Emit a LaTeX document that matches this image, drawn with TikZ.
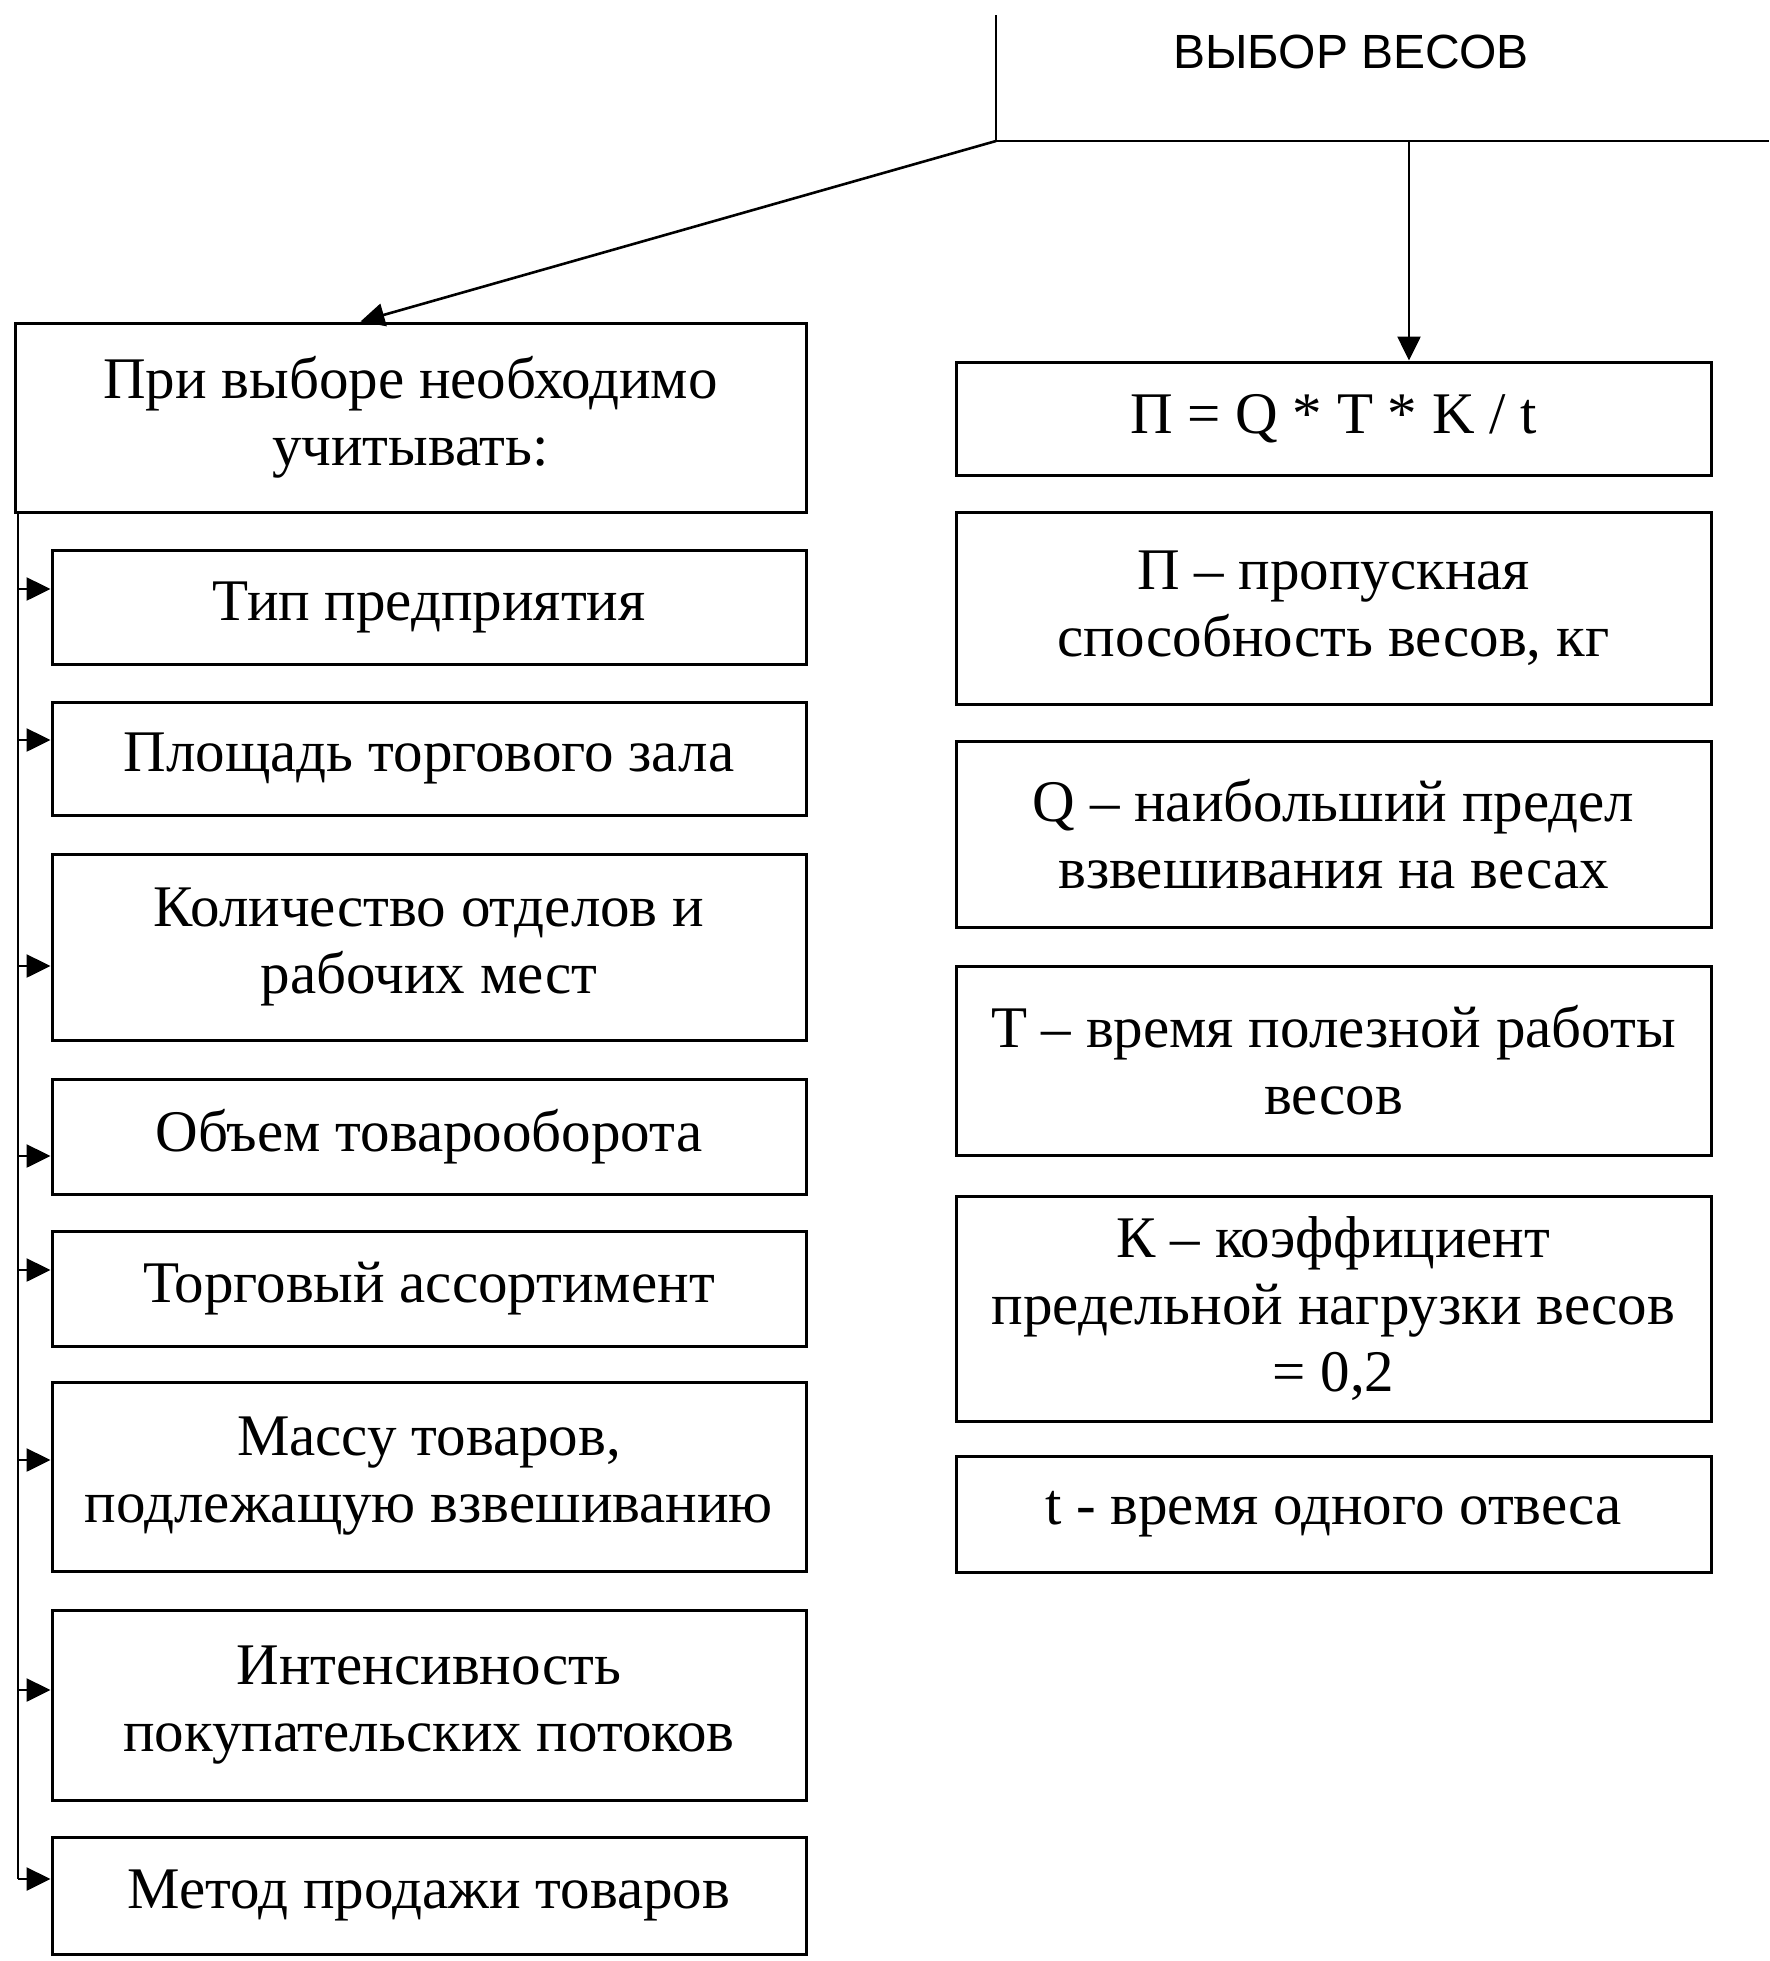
\documentclass[tikz,border=0pt]{standalone}
\usepackage{fontspec}
\setmainfont{Liberation Serif}
\newfontfamily\headfont{Liberation Sans}
\usetikzlibrary{arrows.meta,calc}
\begin{document}
\begin{tikzpicture}[x=0.5pt,y=-0.5pt,
  box/.style={draw,line width=1.5pt,inner sep=0pt,align=center,font=\fontsize{29.5}{33.5}\selectfont},
  lbox/.style={box,minimum width=377pt},
  rbox/.style={box,minimum width=377.5pt},
  arr/.style={line width=1.3pt,-{Triangle[length=12pt,width=11.5pt]}},
  ln/.style={line width=1.3pt}]
\useasboundingbox (0,0) rectangle (1769,1961);
% header
\node[font=\headfont\fontsize{24}{26}\selectfont] (title) at (1351,52) {ВЫБОР ВЕСОВ};
\coordinate (hdT) at (996,15);
\coordinate (hd) at (996,141);
\coordinate (hdR) at (1769,141);
\coordinate (hv) at (1409,141);
\draw[ln] (hdT) -- (hd) -- (hdR);
% left column
\node[box,minimum width=395.5pt,minimum height=94.5pt] (big) at (410.5,417.5) {При выборе необходимо\\учитывать:};
\node[lbox,minimum height=57pt] (b1) at (429,607) {Тип предприятия};
\node[lbox,minimum height=56.5pt] (b2) at (429,758.5) {Площадь торгового зала};
\node[lbox,minimum height=93pt] (b3) at (429,947) {Количество отделов и\\рабочих мест};
\node[lbox,minimum height=57.5pt] (b4) at (429,1136.5) {Объем товарооборота};
\node[lbox,minimum height=57.5pt] (b5) at (429,1288.5) {Торговый ассортимент};
\node[lbox,minimum height=94.5pt] (b6) at (429,1476.5) {Массу товаров,\\подлежащую взвешиванию};
\node[lbox,minimum height=95pt] (b7) at (429,1705) {Интенсивность\\покупательских потоков};
\node[lbox,minimum height=58.5pt] (b8) at (429,1895.5) {Метод продажи товаров};
% right column
\node[rbox,minimum height=56.5pt] (r0) at (1333.5,418.5) {П = Q * T * K / t};
\node[rbox,minimum height=96pt] (r1) at (1333.5,608) {П – пропускная\\способность весов, кг};
\node[rbox,minimum height=93pt] (r2) at (1333.5,834) {Q – наибольший предел\\взвешивания на весах};
\node[rbox,minimum height=94.5pt] (r3) at (1333.5,1060.5) {T – время полезной работы\\весов};
\node[rbox,minimum height=112.5pt] (r4) at (1333.5,1308.5) {К – коэффициент\\предельной нагрузки весов\\= 0,2};
\node[rbox,minimum height=58pt] (r5) at (1333.5,1514) {t - время одного отвеса};
% connectors from header
\draw[arr] (hd) -- ($(big.north west)+(347,0)$);
\draw[arr] (hv) -- (hv |- r0.north);
% spine
\coordinate (sTop) at (18,512);
\coordinate (s1) at (18,589);
\coordinate (s2) at (18,740);
\coordinate (s3) at (18,966);
\coordinate (s4) at (18,1156);
\coordinate (s5) at (18,1270);
\coordinate (s6) at (18,1460);
\coordinate (s7) at (18,1690);
\coordinate (s8) at (18,1879);
\draw[ln] (sTop) -- (s8);
\foreach \i in {1,...,8}{
  \draw[arr] (s\i) -- (s\i -| b\i.west);
}
\end{tikzpicture}
\end{document}
